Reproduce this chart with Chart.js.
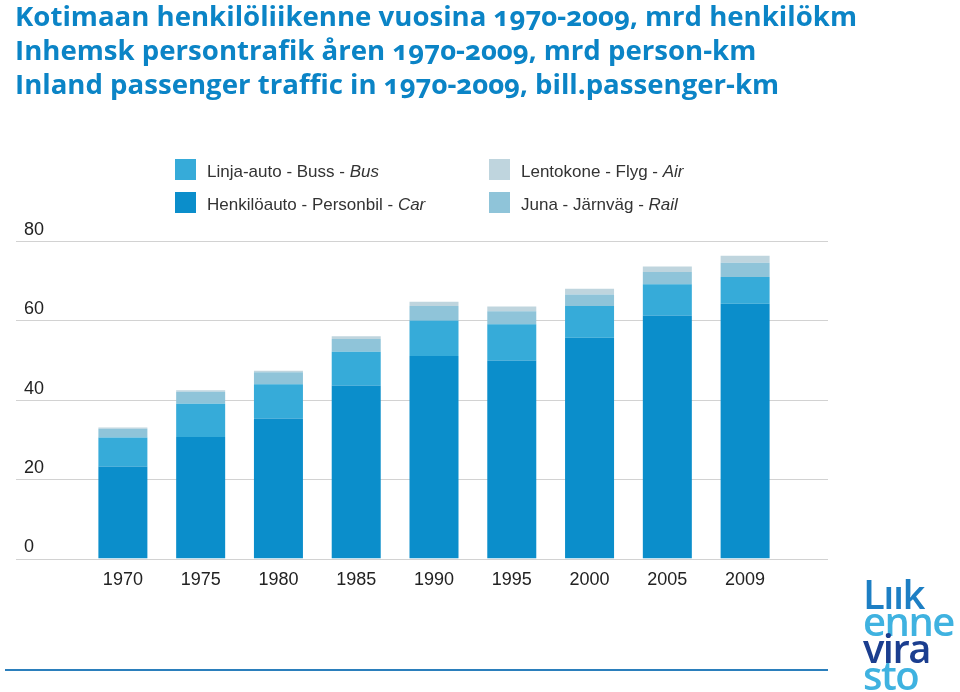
<!DOCTYPE html>
<html>
<head>
<meta charset="utf-8">
<script src="https://cdn.jsdelivr.net/npm/chart.js@4"></script>
<style>
  html, body { margin: 0; padding: 0; background: #fff; }
  #wrap { position: relative; width: 960px; height: 692px; overflow: hidden; }
  #chart { position: absolute; left: 0; top: 0; }
  #title { position: absolute; left: 15px; top: -2px; margin: 0; font-family: "Open Sans", sans-serif; font-weight: 700; font-size: 27.6px; line-height: 34px; color: #0b84c6; font-variant-numeric: oldstyle-nums; font-feature-settings: "onum" 1; white-space: nowrap; }
  .leg { position: absolute; font-family: "Liberation Sans", Arial, sans-serif; font-size: 17px; color: #333; white-space: nowrap; }
  .sw { position: absolute; width: 21px; height: 21px; }
  #logo { position: absolute; left: 863px; top: 580px; font-family: "Open Sans", sans-serif; font-weight: 600; font-size: 40px; line-height: 27px; letter-spacing: -1.5px; }
  #rule { position: absolute; left: 5px; top: 669px; width: 823px; height: 2px; background: #2b7fbc; }
</style>
</head>
<body>
<div id="wrap">
  <canvas id="chart" width="960" height="692"></canvas>
  <div id="title">Kotimaan henkilöliikenne vuosina 1970-2009, mrd henkilökm<br>Inhemsk persontrafik åren 1970-2009, mrd person-km<br>Inland passenger traffic in 1970-2009, bill.passenger-km</div>
  <div id="legend"></div>
  <div id="logo"><div style="color:#1d7fc4">Lıık</div><div style="color:#3fb2e0">enne</div><div style="color:#1b3e8f">vira</div><div style="color:#3fb2e0">sto</div></div>
  <div id="rule"></div>
</div>
<script>
// ---- data ----
const years = ["1970", "1975", "1980", "1985", "1990", "1995", "2000", "2005", "2009"];
const car  = [23.2, 30.6, 35.3, 43.6, 51.0, 49.9, 55.6, 61.2, 64.2];
const bus  = [7.3, 8.4, 8.6, 8.5, 9.0, 9.1, 8.0, 7.9, 6.7];
const rail = [2.2, 3.0, 3.0, 3.2, 3.6, 3.3, 2.9, 3.1, 3.6];
const air  = [0.3, 0.4, 0.4, 0.7, 1.1, 1.2, 1.5, 1.4, 1.8];
const yTicks = [0, 20, 40, 60, 80];
const seriesLabels = {
  car: "Henkilöauto - Personbil - Car",
  bus: "Linja-auto - Buss - Bus",
  rail: "Juna - Järnväg - Rail",
  air: "Lentokone - Flyg - Air"
};
const colors = { car: "#0b8ecb", bus: "#36abd9", rail: "#8fc4d9", air: "#bfd5de" };

const gridPlugin = {
  id: "extGrid",
  beforeDatasetsDraw(chart) {
    const ctx = chart.ctx;
    const ys = chart.scales.y;
    ctx.save();
    ctx.strokeStyle = "#d2d2d2";
    ctx.lineWidth = 1;
    ys.ticks.forEach(t => {
      const py = Math.round(ys.getPixelForValue(t.value)) + 0.5;
      ctx.beginPath();
      ctx.moveTo(16, py);
      ctx.lineTo(828, py);
      ctx.stroke();
    });
    ctx.restore();
  }
};

const ds = (key, data) => ({
  label: seriesLabels[key],
  data: data,
  backgroundColor: colors[key],
  borderWidth: 0,
  stack: "s",
  categoryPercentage: 1,
  barPercentage: 0.63
});

const tickFont = { family: "Liberation Sans, Arial, sans-serif", size: 18 };

const chart = new Chart(document.getElementById("chart"), {
  type: "bar",
  data: {
    labels: years,
    datasets: [ds("car", car), ds("bus", bus), ds("rail", rail), ds("air", air)]
  },
  options: {
    responsive: false,
    animation: false,
    layout: { padding: { left: 24, right: 176, top: 241, bottom: 0 } },
    plugins: { legend: { display: false }, tooltip: { enabled: false }, title: { display: false } },
    scales: {
      x: {
        stacked: true,
        grid: { display: false, drawTicks: false },
        border: { display: false },
        ticks: { color: "#222", font: tickFont, padding: 11, maxRotation: 0 },
        afterFit(scale) { scale.height = 133.5; }
      },
      y: {
        stacked: true,
        min: 0, max: 80,
        afterBuildTicks(scale) { scale.ticks = yTicks.map(v => ({ value: v })); },
        grid: { display: false, drawTicks: false },
        border: { display: false },
        ticks: { color: "#222", font: tickFont, crossAlign: "far", labelOffset: -11, padding: 0 },
        afterFit(scale) { scale.width = 60; }
      }
    }
  },
  plugins: [gridPlugin]
});

// HTML legend built from datasets (mixed italic text)
const legendPos = [
  { key: "bus", x: 175, y: 159 },
  { key: "car", x: 175, y: 192 },
  { key: "air", x: 489, y: 159 },
  { key: "rail", x: 489, y: 192 }
];
const legend = document.getElementById("legend");
legendPos.forEach(p => {
  const sw = document.createElement("div");
  sw.className = "sw";
  sw.style.left = p.x + "px";
  sw.style.top = p.y + "px";
  sw.style.background = colors[p.key];
  legend.appendChild(sw);
  const txt = seriesLabels[p.key];
  const i = txt.lastIndexOf(" - ");
  const el = document.createElement("div");
  el.className = "leg";
  el.style.left = (p.x + 32) + "px";
  el.style.top = (p.y + 3) + "px";
  el.innerHTML = txt.slice(0, i + 3) + "<i>" + txt.slice(i + 3) + "</i>";
  legend.appendChild(el);
});
</script>
</body>
</html>
